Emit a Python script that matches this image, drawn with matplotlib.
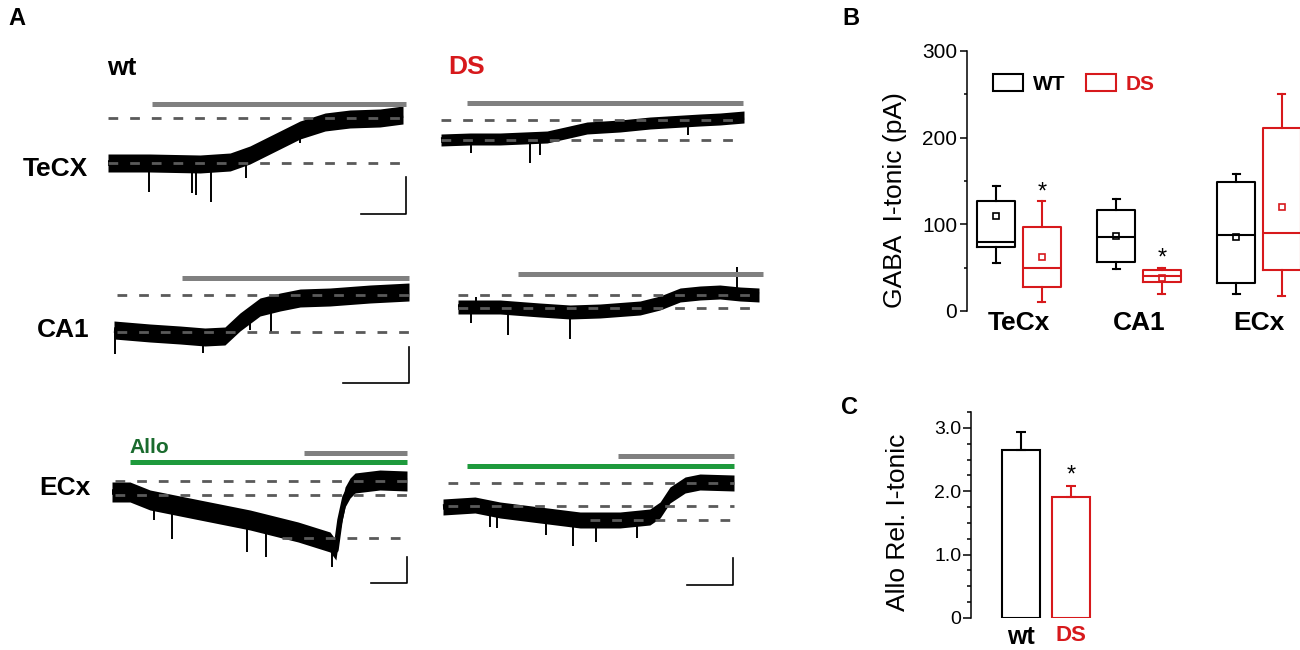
import numpy as np
import matplotlib
matplotlib.use("Agg")
import matplotlib.pyplot as plt
from matplotlib.patches import Patch

plt.rcParams['font.family'] = ['Liberation Sans', 'DejaVu Sans']

RED = '#d7191c'
GREEN = '#1e9a3c'
ALLO_GREEN = '#1a6b2e'
BAR_GREY = '#808080'
DASH_GREY = '#5a5a5a'

W, H = 1300, 650

# ---------------------------------------------------------------- panel A
# traces: time in % of the sweep, current relative to the lower baseline
# (arbitrary units, upward = more tonic current)
tecx_wt_t = [0, 14.2, 31.2, 41.4, 48.1, 58.3, 65.1, 73.6, 82.0, 92.2, 100]
tecx_wt_i = [0, 0, -1, 1, 8, 23, 33, 41, 44, 45, 48]
tecx_wt_spk_t = [13.9, 28.5, 29.8, 34.9, 46.8, 65.1]
tecx_wt_spk_i = [-29, -30, -32, -39, -15, 20]

tecx_ds_t = [0, 9.6, 19.5, 35.0, 40.9, 48.2, 59.1, 69.0, 85.5, 92.1, 100]
tecx_ds_i = [0, 1, 1, 3, 7, 12, 14, 17, 20, 21, 23]
tecx_ds_spk_t = [9.9, 29.4, 32.7, 81.5]
tecx_ds_spk_i = [-13, -23, -15, 5]

ca1_wt_t = [0, 12.2, 22.4, 30.8, 37.6, 42.7, 49.5, 56.3, 63.1, 73.2, 86.8, 100]
ca1_wt_i = [2, -1, -3, -5, -4, 10, 25, 30, 34, 35, 38, 40]
ca1_wt_spk_t = [0.3, 30.2, 46.1, 53.2]
ca1_wt_spk_i = [-22, -21, 2, 0]

ca1_ds_t = [0, 14.0, 27.2, 37.2, 47.2, 60.5, 67.1, 73.8, 80.4, 87.0, 93.7, 100]
ca1_ds_i = [1, 1, -2, -4, -3, 0, 5, 13, 15, 16, 14, 13]
ca1_ds_spk_t = [4.3, 6.0, 16.6, 37.2, 92.7]
ca1_ds_spk_i = [-15, 11, -27, -31, 41]

ecx_wt_t = [0, 6.1, 12.9, 29.8, 46.8, 63.1, 73.9, 75.9, 77.3, 79.0, 80.7, 82.4, 90.8, 100]
ecx_wt_i = [3, 3, -5, -15, -25, -37, -47, -55, -25, -2, 7, 12, 15, 14]
ecx_wt_spk_t = [14.2, 20.3, 45.8, 52.2, 74.5]
ecx_wt_spk_i = [-25, -44, -57, -62, -72]

ecx_ds_t = [0, 11.0, 19.6, 33.3, 47.1, 60.8, 71.1, 74.6, 78.0, 83.2, 88.3, 100]
ecx_ds_i = [-1, 1, -4, -9, -14, -14, -11, -4, 11, 21, 24, 23]
ecx_ds_spk_t = [16.2, 18.6, 35.4, 44.7, 52.6, 66.7]
ecx_ds_spk_i = [-21, -22, -29, -40, -36, -32]

# dashed reference levels: (current, start of line in %)
tecx_wt_dash = [(0, 0), (45, 0)]
tecx_ds_dash = [(0, 0), (20, 0)]
ca1_wt_dash = [(0, 1), (37, 1)]
ca1_ds_dash = [(0, 0), (13, 0)]
ecx_wt_dash = [(14, 1), (0, 1), (-43, 57.6)]
ecx_ds_dash = [(23, 1.7), (0, 1.7), (-14, 50.5)]

# drug application bars: (level, start %, end %, colour)
tecx_wt_bars = [(59, 14.9, 101, BAR_GREY)]
tecx_ds_bars = [(37, 8.6, 99.7, BAR_GREY)]
ca1_wt_bars = [(54, 23.1, 100, BAR_GREY)]
ca1_ds_bars = [(34, 19.9, 101.3, BAR_GREY)]
ecx_wt_bars = [(33, 6.1, 100, GREEN), (42, 65.1, 100, BAR_GREY)]
ecx_ds_bars = [(40, 8.2, 100, GREEN), (50, 60.1, 100, BAR_GREY)]

# scale bars: (horizontal start %, vertical position %, top, bottom)
tecx_wt_scale = (85.8, 101, -14, -51)
ca1_wt_scale = (77.6, 100, -15, -51)
ecx_wt_scale = (87.8, 100, -62, -88)
ecx_ds_scale = (83.8, 99.7, -52, -79)

# ---------------------------------------------------------------- panel B
regions = ['TeCx', 'CA1', 'ECx']
wt_med = [80, 85, 88]
wt_q1 = [74, 56, 32]
wt_q3 = [127, 117, 149]
wt_lo = [55, 48, 20]
wt_hi = [144, 129, 158]
wt_mean = [110, 87, 85]
ds_med = [50, 40, 90]
ds_q1 = [28, 33, 47]
ds_q3 = [97, 47, 211]
ds_lo = [10, 20, 17]
ds_hi = [127, 50, 250]
ds_mean = [62, 38, 120]
sig_b = [137, 61, None]

# ---------------------------------------------------------------- panel C
groups = ['wt', 'DS']
allo_mean = [2.65, 1.91]
allo_sem = [0.29, 0.17]

fig = plt.figure(figsize=(13, 6.5), dpi=100)


def fig_box(left, top, right, bottom):
    return [left / W, 1 - bottom / H, (right - left) / W, (bottom - top) / H]


def trace_axes(x0, y0, width):
    # 100 % of the sweep spans `width` px, 1 current unit = 1 px
    pl, pr, up, down = 15, 25, 80, 100
    ax = fig.add_axes(fig_box(x0 - pl, y0 - up, x0 + width + pr, y0 + down))
    ax.set_xlim(-pl / width * 100, (width + pr) / width * 100)
    ax.set_ylim(-down, up)
    ax.axis('off')
    return ax


def draw_trace(ax, t, i, half, spk_t, spk_i, dashes, bars, scale=None):
    t = np.asarray(t, float)
    i = np.asarray(i, float)
    ax.fill_between(t, i - half, i + half, color='black', lw=0, zorder=2)
    ax.plot(t, i, color='black', lw=4, solid_joinstyle='round',
            solid_capstyle='butt', zorder=2)
    base = np.interp(spk_t, t, i)
    ax.vlines(spk_t, base, spk_i, color='black', lw=1.4, zorder=2)
    for lev, t0 in dashes:
        ax.plot([t0, 100], [lev, lev], color=DASH_GREY, lw=2,
                ls=(0, (3.5, 4.3)), zorder=3)
    for lev, t0, t1, col in bars:
        ax.plot([t0, t1], [lev, lev], color=col, lw=3.6,
                solid_capstyle='butt', zorder=3)
    if scale is not None:
        h0, v, top, bot = scale
        ax.plot([h0, v, v], [bot, bot, top], color='black', lw=1.2, zorder=3)


ax = trace_axes(108, 163, 295)
draw_trace(ax, tecx_wt_t, tecx_wt_i, 9, tecx_wt_spk_t, tecx_wt_spk_i,
           tecx_wt_dash, tecx_wt_bars, tecx_wt_scale)
ax = trace_axes(441, 140, 303)
draw_trace(ax, tecx_ds_t, tecx_ds_i, 6, tecx_ds_spk_t, tecx_ds_spk_i,
           tecx_ds_dash, tecx_ds_bars)
ax = trace_axes(114, 332, 295)
draw_trace(ax, ca1_wt_t, ca1_wt_i, 9, ca1_wt_spk_t, ca1_wt_spk_i,
           ca1_wt_dash, ca1_wt_bars, ca1_wt_scale)
ax = trace_axes(458, 308, 301)
draw_trace(ax, ca1_ds_t, ca1_ds_i, 7, ca1_ds_spk_t, ca1_ds_spk_i,
           ca1_ds_dash, ca1_ds_bars)
ax = trace_axes(112, 495, 295)
draw_trace(ax, ecx_wt_t, ecx_wt_i, 10, ecx_wt_spk_t, ecx_wt_spk_i,
           ecx_wt_dash, ecx_wt_bars, ecx_wt_scale)
ax = trace_axes(443, 506, 291)
draw_trace(ax, ecx_ds_t, ecx_ds_i, 8, ecx_ds_spk_t, ecx_ds_spk_i,
           ecx_ds_dash, ecx_ds_bars, ecx_ds_scale)

bold = dict(fontweight='bold', va='baseline')
fig.text(8 / W, 1 - 25 / H, 'A', fontsize=17, **bold)
fig.text(842 / W, 1 - 25 / H, 'B', fontsize=17, **bold)
fig.text(841 / W, 1 - 414 / H, 'C', fontsize=17, **bold)
fig.text(107 / W, 1 - 75 / H, 'wt', fontsize=19, **bold)
fig.text(448 / W, 1 - 74 / H, 'DS', fontsize=19, color=RED, **bold)
fig.text(23 / W, 1 - 176 / H, 'TeCX', fontsize=19, **bold)
fig.text(37 / W, 1 - 337 / H, 'CA1', fontsize=19, **bold)
fig.text(39 / W, 1 - 495 / H, 'ECx', fontsize=19, **bold)
fig.text(129 / W, 1 - 453 / H, 'Allo', fontsize=15, color=ALLO_GREEN, **bold)

# ---------------------------------------------------------------- panel B
axb = fig.add_axes(fig_box(967, 51, 1340, 311))
centers = np.arange(1, len(regions) + 1)


def box_stats(med, q1, q3, lo, hi, mean):
    return [dict(med=m, q1=a, q3=b, whislo=l, whishi=h, mean=mu, fliers=[])
            for m, a, b, l, h, mu in zip(med, q1, q3, lo, hi, mean)]


for st, off, col in [(box_stats(wt_med, wt_q1, wt_q3, wt_lo, wt_hi, wt_mean), -0.19, 'black'),
                     (box_stats(ds_med, ds_q1, ds_q3, ds_lo, ds_hi, ds_mean), 0.19, RED)]:
    line = dict(color=col, lw=1.5)
    axb.bxp(st, positions=centers + off, widths=0.317, showmeans=True,
            boxprops=line, medianprops=line, whiskerprops=line, capprops=line,
            meanprops=dict(marker='s', markerfacecolor='none', markeredgecolor=col,
                           markersize=4, markeredgewidth=1.2),
            capwidths=0.06, manage_ticks=False)

for c, s in zip(centers, sig_b):
    if s is not None:
        axb.text(c + 0.19, s, '*', fontsize=17, ha='center', va='center')

axb.set_xlim(0.567, 3.675)
axb.set_ylim(0, 300)
axb.set_yticks([0, 100, 200, 300])
axb.set_yticks([50, 150, 250], minor=True)
axb.set_xticks(centers, regions, fontsize=19, fontweight='bold')
axb.tick_params(axis='x', length=0, pad=0)
axb.tick_params(axis='y', which='major', length=5, width=1.1, labelsize=15, pad=2)
axb.tick_params(axis='y', which='minor', length=2.5, width=1.1)
for side in ['top', 'right', 'bottom']:
    axb.spines[side].set_visible(False)
axb.spines['left'].set_linewidth(1.1)
axb.patch.set_visible(False)
fig.text(895 / W, 1 - 200 / H, 'GABA  I-tonic (pA)', fontsize=19, rotation=90,
         ha='center', va='center')

handles = [Patch(facecolor='none', edgecolor='black', lw=1.5, label='WT'),
           Patch(facecolor='none', edgecolor=RED, lw=1.5, label='DS')]
fig.legend(handles=handles, loc='center left', bbox_to_anchor=(993 / W, 1 - 84 / H),
           bbox_transform=fig.transFigure, frameon=False, ncol=2,
           handlelength=1.45, handleheight=0.9, handletextpad=0.45,
           columnspacing=1.0, borderpad=0, borderaxespad=0,
           prop=dict(weight='bold', size=15), labelcolor=['black', RED])

# ---------------------------------------------------------------- panel C
axc = fig.add_axes(fig_box(971, 412, 1110, 618))
xpos = np.arange(len(groups))
cols = ['black', RED]
axc.bar(xpos, allo_mean, width=0.76, fill=False, edgecolor=cols, lw=1.5, zorder=2)
for x, m, e, c in zip(xpos, allo_mean, allo_sem, cols):
    axc.errorbar(x, m, yerr=[[0], [e]], color=c, elinewidth=1.5, capsize=3.6,
                 capthick=1.5, zorder=1)
axc.text(xpos[1], allo_mean[1] + allo_sem[1] + 0.17, '*', fontsize=17,
         ha='center', va='center')
axc.set_xlim(-1, 1.78)
axc.set_ylim(0, 3.25)
axc.set_yticks([0, 1, 2, 3], ['0', '1.0', '2.0', '3.0'])
axc.set_yticks(np.arange(0.25, 3.3, 0.25), minor=True)
axc.set_xticks(xpos, groups)
for lab, c, fs in zip(axc.get_xticklabels(), cols, [18, 16]):
    lab.set_color(c)
    lab.set_fontweight('bold')
    lab.set_fontsize(fs)
axc.tick_params(axis='x', length=0, pad=5)
axc.tick_params(axis='y', which='major', length=6, width=1.1, labelsize=14, pad=1)
axc.tick_params(axis='y', which='minor', length=3, width=1.1)
for side in ['top', 'right', 'bottom']:
    axc.spines[side].set_visible(False)
axc.spines['left'].set_linewidth(1.1)
axc.patch.set_visible(False)
fig.text(898 / W, 1 - 522 / H, 'Allo Rel. I-tonic', fontsize=19, rotation=90,
         ha='center', va='center')

fig.savefig('out.png', dpi=100)
